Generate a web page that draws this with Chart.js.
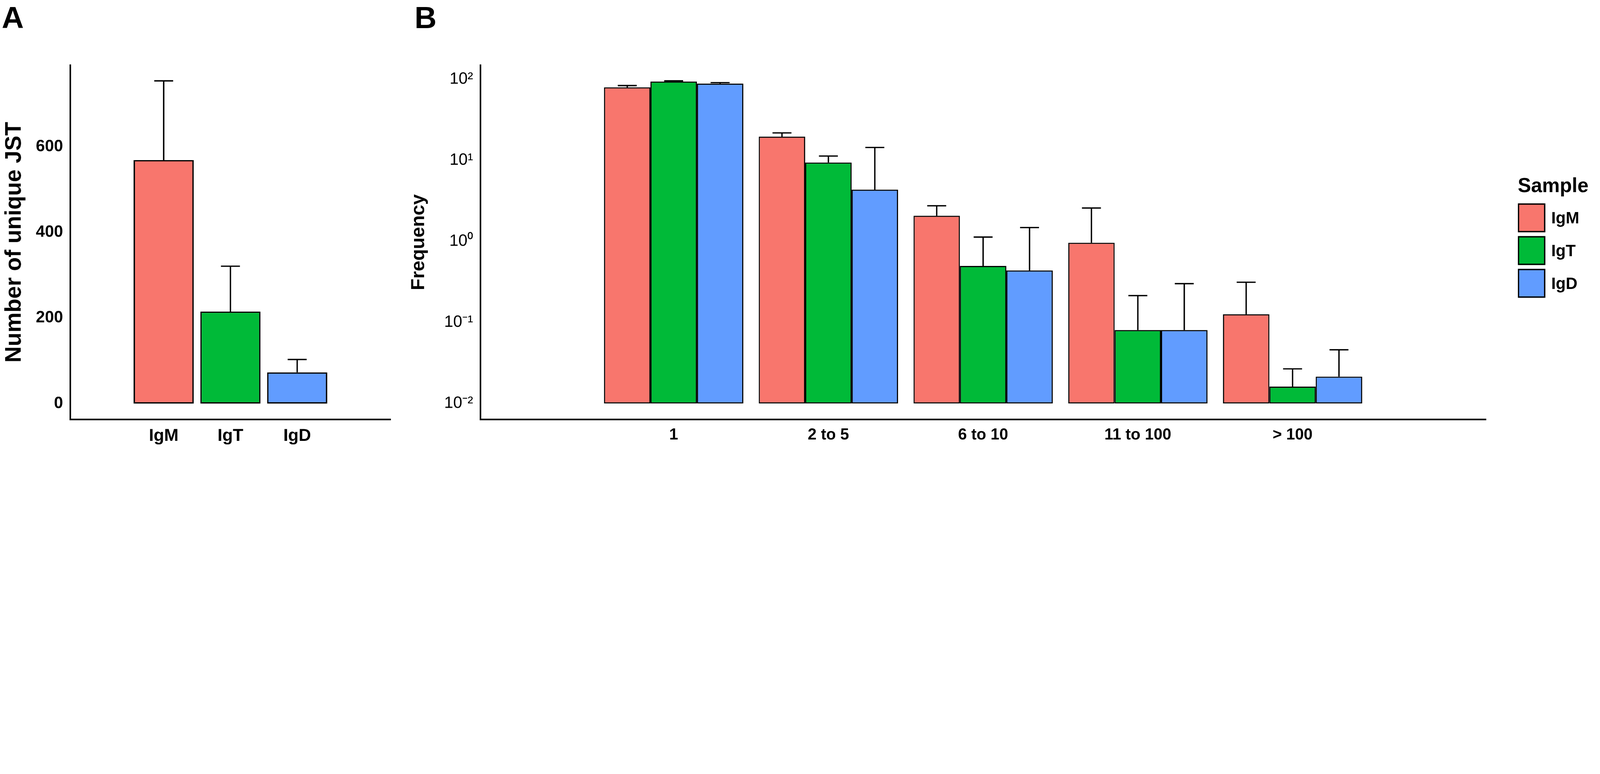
<!DOCTYPE html>
<html>
<head>
<meta charset="utf-8">
<script src="https://cdn.jsdelivr.net/npm/chart.js@4.4.0/dist/chart.umd.min.js"></script>
<style>
    html, body { margin: 0; background: #fff; overflow: hidden; font-family: "Liberation Sans", Arial, sans-serif; }
    #page { position: absolute; left: 0; top: 0; width: 7086px; height: 1982px; transform-origin: 0 0; }
    .panel { position: absolute; top: 0; height: 1982px; }
    .tag { position: absolute; top: 0; font-weight: bold; font-size: 135px; }
    #legend { position: absolute; left: 6722px; top: 770px; font-weight: bold; }
    #legend .title { font-size: 88px; margin-bottom: 20px; }
    #legend .row { display: flex; align-items: center; height: 145px; }
    #legend .key { width: 122px; height: 128px; border: 6px solid #000; box-sizing: border-box; margin-right: 26px; }
    #legend .lab { font-size: 72px; }
</style>
</head>
<body>
<div id="page">
<div class="tag" style="left:8px">A</div>
<div class="tag" style="left:1836px">B</div>
<div class="panel" style="left:0;width:1800px"><canvas id="chartA"></canvas></div>
<div class="panel" style="left:1800px;width:5286px"><canvas id="chartB"></canvas></div>
<div id="legend"></div>
</div>
<script>
const samples = ['IgM', 'IgT', 'IgD'];
const colors = ['#F8766D', '#00BA38', '#619CFF'];

// panel A
const uniqueJst = [569, 215, 73];
const uniqueJstErr = [754, 321, 103];
const ticksA = [0, 200, 400, 600];

// panel B
const bins = ['1', '2 to 5', '6 to 10', '11 to 100', '> 100'];
const freqIgM = [79.6, 19.6, 2.07, 0.96, 0.126];
const freqIgT = [93.7, 9.37, 0.498, 0.0804, 0.0161];
const freqIgD = [88.5, 4.34, 0.437, 0.0804, 0.0214];
const errIgM = [83.7, 21.8, 2.75, 2.58, 0.313];
const errIgT = [95.6, 11.3, 1.13, 0.214, 0.0267];
const errIgD = [91.0, 14.4, 1.48, 0.301, 0.0459];
const ticksB = [0.01, 0.1, 1, 10, 100];
const ticksBLabels = ['10⁻²', '10⁻¹', '10⁰', '10¹', '10²'];

const font = 'Liberation Sans';

// fit the 7086px wide page into whatever the window really is
const page = document.getElementById('page');
const zoom = window.innerWidth / 7086;
page.style.transform = `scale(${zoom})`;

const errorBars = {
    id: 'errorBars',
    afterDatasetsDraw(chart) {
        const ctx = chart.ctx;
        const y = chart.scales.y;
        ctx.save();
        ctx.strokeStyle = '#000';
        ctx.lineWidth = 6;
        chart.data.datasets.forEach((ds, i) => {
            const meta = chart.getDatasetMeta(i);
            meta.data.forEach((bar, j) => {
                const top = y.getPixelForValue(ds.err[j]);
                ctx.beginPath();
                ctx.moveTo(bar.x, bar.y);
                ctx.lineTo(bar.x, top);
                ctx.moveTo(bar.x - 42, top);
                ctx.lineTo(bar.x + 42, top);
                ctx.stroke();
            });
        });
        ctx.restore();
    }
};

function xAxis(n, labels, size) {
    return {
        type: 'linear',
        min: 0.4,
        max: n + 0.6,
        afterBuildTicks: s => { s.ticks = labels.map((l, i) => ({ value: i + 1 })); },
        afterFit: s => { s.height = 124; },
        ticks: {
            callback: v => labels[v - 1],
            color: '#000',
            font: { family: font, weight: 'bold', size: size },
            padding: 20
        },
        grid: { display: false },
        border: { display: true, color: '#000', width: 7 }
    };
}

new Chart(document.getElementById('chartA'), {
    type: 'bar',
    data: {
        datasets: [{
            data: uniqueJst.map((v, i) => ({ x: i + 1, y: [0, v] })),
            err: uniqueJstErr,
            backgroundColor: colors,
            borderColor: '#000',
            borderWidth: 6,
            borderSkipped: false,
            categoryPercentage: 0.9,
            barPercentage: 1
        }]
    },
    options: {
        responsive: true,
        maintainAspectRatio: false,
        animation: false,
        devicePixelRatio: 1,
        layout: { padding: { top: 288, right: 70, left: 0, bottom: 0 } },
        plugins: { legend: { display: false }, tooltip: { enabled: false } },
        scales: {
            x: xAxis(3, samples, 76),
            y: {
                min: -37,
                max: 791,
                afterBuildTicks: s => { s.ticks = ticksA.map(v => ({ value: v })); },
                afterFit: s => { s.width = 311; },
                title: {
                    display: true,
                    text: 'Number of unique JST',
                    color: '#000',
                    font: { family: font, weight: 'bold', size: 100 }
                },
                ticks: { color: '#000', font: { family: font, weight: 'bold', size: 72 }, padding: 24 },
                grid: { display: false },
                border: { display: true, color: '#000', width: 7 }
            }
        }
    },
    plugins: [errorBars]
});

const freq = [freqIgM, freqIgT, freqIgD];
const errs = [errIgM, errIgT, errIgD];

new Chart(document.getElementById('chartB'), {
    type: 'bar',
    data: {
        datasets: samples.map((s, k) => ({
            label: s,
            data: freq[k].map((v, i) => ({ x: i + 1, y: [0.01, v] })),
            err: errs[k],
            backgroundColor: colors[k],
            borderColor: '#000',
            borderWidth: 5,
            borderSkipped: false,
            categoryPercentage: 0.9,
            barPercentage: 1
        }))
    },
    options: {
        responsive: true,
        maintainAspectRatio: false,
        animation: false,
        devicePixelRatio: 1,
        layout: { padding: { top: 288, right: 505, left: 0, bottom: 0 } },
        plugins: { legend: { display: false }, tooltip: { enabled: false } },
        scales: {
            x: xAxis(5, bins, 70),
            y: {
                type: 'logarithmic',
                min: 0.00635,
                max: 150,
                afterBuildTicks: s => { s.ticks = ticksB.map(v => ({ value: v })); },
                afterFit: s => { s.width = 327; },
                title: {
                    display: true,
                    text: 'Frequency',
                    color: '#000',
                    font: { family: font, weight: 'bold', size: 84 }
                },
                ticks: {
                    callback: v => ticksBLabels[ticksB.indexOf(v)],
                    color: '#000',
                    font: { family: font, size: 72 },
                    padding: 24
                },
                grid: { display: false },
                border: { display: true, color: '#000', width: 7 }
            }
        }
    },
    plugins: [errorBars]
});

const legend = document.getElementById('legend');
legend.innerHTML = '<div class="title">Sample</div>' + samples.map((s, k) =>
    `<div class="row"><div class="key" style="background:${colors[k]}"></div><div class="lab">${s}</div></div>`
).join('');
</script>
</body>
</html>
